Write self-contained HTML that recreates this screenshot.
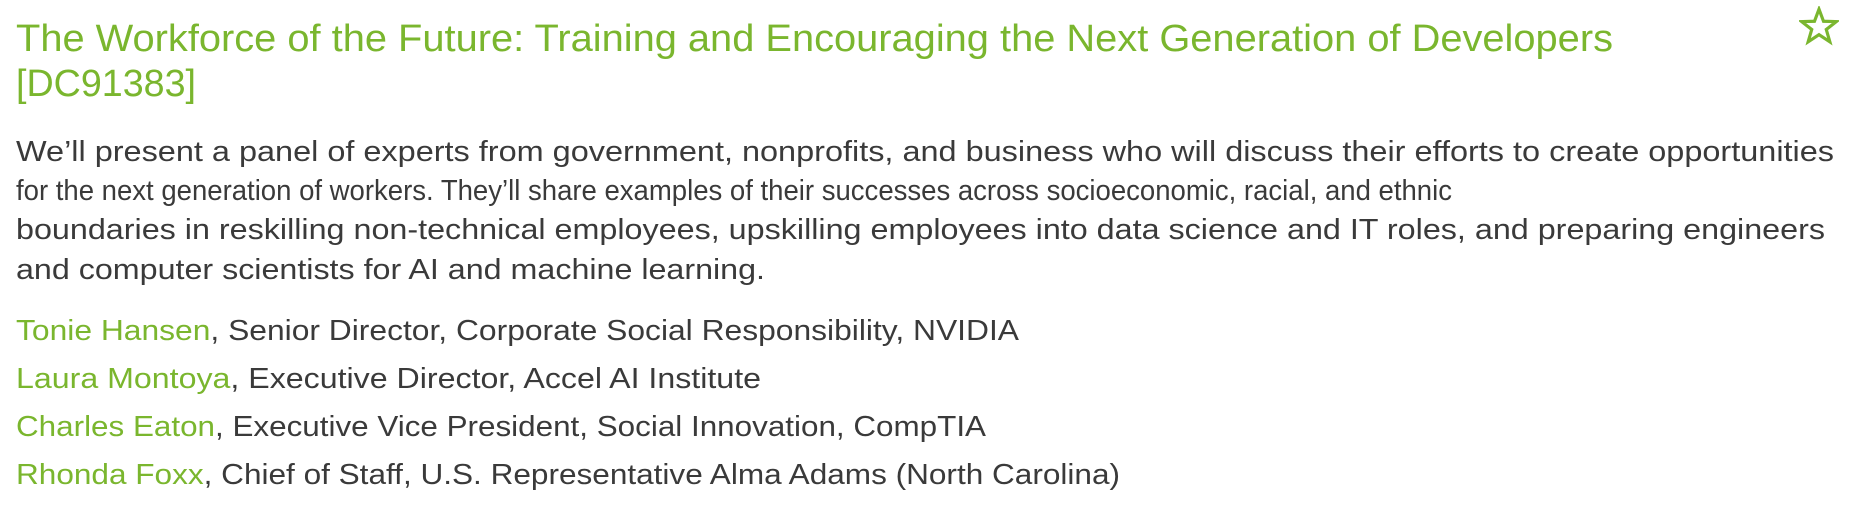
<!DOCTYPE html>
<html><head><meta charset="utf-8"><style>
html,body{margin:0;padding:0;background:#fff;width:1864px;height:508px;overflow:hidden;position:relative;font-family:"Liberation Sans",sans-serif}
.l{position:absolute;left:16px;white-space:nowrap;line-height:1;transform-origin:0 0}
.t{font-size:38px;color:#7ab62e}
.b{font-size:29px;color:#3a3a3a}
.g{color:#7ab62e}
</style></head><body>
<div class="l t" data-w="1597" style="top:20px">The Workforce of the Future: Training and Encouraging the Next Generation of Developers</div>
<div class="l t" data-w="180" style="top:65px">[DC91383]</div>
<svg style="position:absolute;left:1799px;top:6px" width="40" height="40" viewBox="0 0 38 38"><polygon points="19,3 23.3,14.5 35.5,14.8 25.9,22.3 29.3,34 19,27.2 8.7,34 12.1,22.3 2.5,14.8 14.7,14.5" fill="none" stroke="#7ab62e" stroke-width="3" stroke-linejoin="miter"/></svg>
<div>
<div class="l b" data-w="1818" style="top:138px">We’ll present a panel of experts from government, nonprofits, and business who will discuss their efforts to create opportunities</div>
<div class="l b" data-w="1436" style="top:177px">for the next generation of workers. They’ll share examples of their successes across socioeconomic, racial, and ethnic</div>
<div class="l b" data-w="1809" style="top:216px">boundaries in reskilling non-technical employees, upskilling employees into data science and IT roles, and preparing engineers</div>
<div class="l b" data-w="749" style="top:256px">and computer scientists for AI and machine learning.</div>
</div>
<div>
<div class="l b" data-w="1003" style="top:317px"><span class="g">Tonie Hansen</span>, Senior Director, Corporate Social Responsibility, NVIDIA</div>
<div class="l b" data-w="745" style="top:365px"><span class="g">Laura Montoya</span>, Executive Director, Accel AI Institute</div>
<div class="l b" data-w="970" style="top:413px"><span class="g">Charles Eaton</span>, Executive Vice President, Social Innovation, CompTIA</div>
<div class="l b" data-w="1104" style="top:461px"><span class="g">Rhonda Foxx</span>, Chief of Staff, U.S. Representative Alma Adams (North Carolina)</div>
</div>
<script>
document.querySelectorAll('[data-w]').forEach(function(el){
  var w=el.getBoundingClientRect().width, t=+el.getAttribute('data-w');
  if(w>0) el.style.transform='scaleX('+(t/w)+')';
});
</script>
</body></html>
